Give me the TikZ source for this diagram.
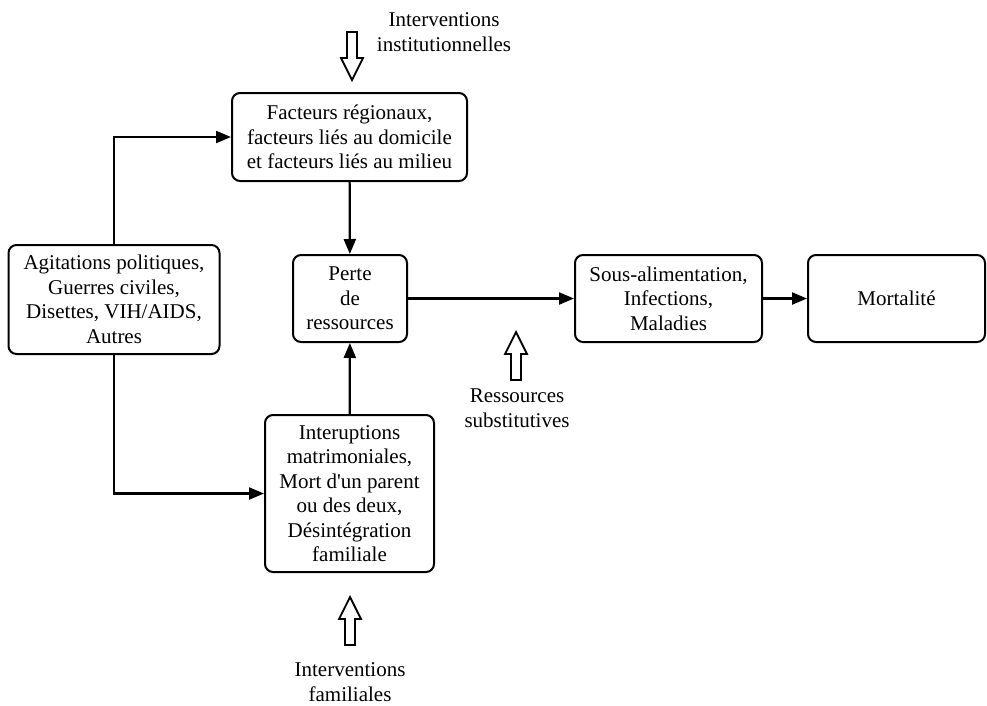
\documentclass[tikz,border=0pt]{standalone}
\usepackage{fontspec}
\setmainfont{Liberation Serif}
\newfontfamily\quotefont{Liberation Serif}
\usetikzlibrary{arrows.meta}

\tikzset{
  box/.style={draw, line width=2pt, rounded corners=8pt, align=center, inner sep=0pt,
    font=\fontsize{21}{24.5}\selectfont},
  note/.style={align=center, font=\fontsize{21}{24.5}\selectfont},
  link/.style={line width=2.2pt, -{Triangle[length=15pt,width=12pt]}},
  hollow arrow/.pic={\draw[line width=1.8pt, fill=white]
    (0,0) -- (-11,-22) -- (-5,-22) -- (-5,-48) -- (5,-48) -- (5,-22) -- (11,-22) -- cycle;}
}

\begin{document}
\begin{tikzpicture}[x=1pt,y=-1pt]
\useasboundingbox (0,0) rectangle (987,705);

% boxes
\node[box, minimum width=235pt, minimum height=88pt] (fac) at (349.5,137)
  {Facteurs régionaux,\\facteurs liés au domicile\\et facteurs liés au milieu};
\node[box, minimum width=211pt, minimum height=109pt] (agit) at (114,299.5)
  {Agitations politiques,\\Guerres civiles,\\Disettes, VIH/AIDS,\\Autres};
\node[box, minimum width=114pt, minimum height=87pt] (perte) at (350,298.5)
  {Perte\\de\\ressources};
\node[box, minimum width=169pt, minimum height=157pt] (inter) at (349.5,493.5)
  {Interuptions\\matrimoniales,\\Mort d{\quotefont'}un parent\\ou des deux,\\Désintégration\\familiale};
\node[box, minimum width=187pt, minimum height=87pt] (sous) at (668.5,298.5)
  {Sous-alimentation,\\Infections,\\Maladies};
\node[box, minimum width=177pt, minimum height=87pt] (mort) at (896.5,298.5)
  {Mortalité};

% connectors
\draw[link] (agit.north) |- (fac.west);
\draw[link] (agit.south) |- (inter.west);
\draw[link] (fac) -- (perte);
\draw[link] (inter) -- (perte);
\draw[link] (perte) -- (sous);
\draw[link] (sous) -- (mort);

% interventions
\node[note] (inst) at (444,32) {Interventions\\institutionnelles};
\node[note] (subst) at (517,408) {Ressources\\substitutives};
\node[note] (fam) at (350,682) {Interventions\\familiales};
\pic at (352,80) {hollow arrow};
\pic[rotate=180] at (516,332) {hollow arrow};
\pic[rotate=180] at (350,597) {hollow arrow};
\end{tikzpicture}
\end{document}
